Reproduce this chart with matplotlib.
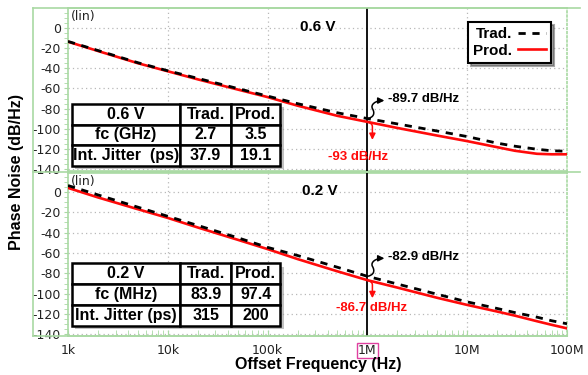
import numpy as np
import matplotlib
matplotlib.use("Agg")
import matplotlib.pyplot as plt
from matplotlib.lines import Line2D
from matplotlib.patches import Rectangle, FancyArrowPatch
from matplotlib.path import Path
import matplotlib.transforms as mtransforms

# offset frequency points (Hz)
freq = [1e3, 2e3, 5e3, 1e4, 2e4, 5e4, 1e5, 2e5, 5e5, 1e6,
        2e6, 5e6, 1e7, 2e7, 3e7, 5e7, 7e7, 1e8]

# 0.6 V phase noise (dB/Hz)
trad_06 = [-13.5, -22.5, -34.5, -42.5, -50, -60, -67.5, -75, -84, -89.7,
           -95, -102, -107.5, -114, -117, -120, -121.5, -122]
prod_06 = [-13.8, -23, -35, -43, -51, -61, -68.5, -77, -87, -93,
           -99, -106.5, -112, -118, -121.5, -124.5, -125, -125]

# 0.2 V phase noise (dB/Hz)
trad_02 = [6.2, -3, -15, -24, -33, -45, -54.5, -62.5, -74, -82.9,
           -90.5, -100.5, -108, -114.5, -118.5, -123, -126.5, -129.5]
prod_02 = [3.9, -5.5, -17, -25.6, -35, -47, -56.2, -66, -78, -86.7,
           -94, -104, -111, -117.5, -121.5, -127, -130.5, -134]

table_06 = [["0.6 V", "Trad.", "Prod."],
            ["fc (GHz)", "2.7", "3.5"],
            ["Int. Jitter  (ps)", "37.9", "19.1"]]
table_02 = [["0.2 V", "Trad.", "Prod."],
            ["fc (MHz)", "83.9", "97.4"],
            ["Int. Jitter (ps)", "315", "200"]]

xticks = [1e3, 1e4, 1e5, 1e6, 1e7, 1e8]
xticklabels = ["1k", "10k", "100k", "1M", "10M", "100M"]
yticks = [0, -20, -40, -60, -80, -100, -120, -140]
mark_f = 1e6

W, H = 588, 375
GREEN = "#a9d9a3"
RED = "#ff0a0a"
BOLD = "Liberation Sans"

fig = plt.figure(figsize=(W / 100, H / 100), dpi=100)
fig.patch.set_facecolor("white")


def px(x, y):
    return x / W, 1 - y / H


def frame_line(x0, y0, x1, y1, **kw):
    a, b = px(x0, y0)
    c, d = px(x1, y1)
    fig.add_artist(Line2D([a, c], [b, d], transform=fig.transFigure,
                          color=GREEN, lw=1.2, **kw))


ax1 = fig.add_axes([68 / W, 1 - 171 / H, 499 / W, 163 / H])
ax2 = fig.add_axes([68 / W, 1 - 336 / H, 499 / W, 163 / H])


def setup(ax, ylim, bottom):
    ax.set_xscale("log")
    ax.set_xlim(1e3, 1e8)
    ax.set_ylim(*ylim)
    ax.set_yticks(yticks)
    ax.set_yticklabels([str(t) for t in yticks], fontsize=9)
    ax.set_yticks(np.arange(-140, 16, 5), minor=True)
    ax.tick_params(axis="y", which="both", direction="out", length=3,
                   color=GREEN, pad=2, labelcolor="#222222")
    ax.set_xticks(xticks)
    ax.xaxis.set_minor_locator(matplotlib.ticker.LogLocator(
        base=10, subs=np.arange(2, 10)))
    ax.xaxis.set_minor_formatter(matplotlib.ticker.NullFormatter())
    if bottom:
        ax.set_xticklabels(xticklabels, fontsize=9)
        ax.tick_params(axis="x", which="both", direction="in", length=4,
                       color=GREEN, pad=6, labelcolor="#222222")
    else:
        ax.set_xticklabels([])
        ax.tick_params(axis="x", which="both", length=0)
    for s in ["left", "top", "bottom"]:
        ax.spines[s].set_color(GREEN)
        ax.spines[s].set_linewidth(1.2)
    ax.spines["right"].set_color(GREEN)
    ax.spines["right"].set_linestyle((0, (1, 1.5)))
    ax.spines["right"].set_linewidth(1.2)
    for yv in yticks:
        ax.axhline(yv, color="#b8b8b8", lw=0.9, ls=(0, (1, 2.5)), zorder=0)
    for xv in [1e4, 1e5, 1e7]:
        ax.axvline(xv, color="#b8b8b8", lw=0.9, ls=(0, (1, 2.5)), zorder=0)
    ax.axvline(mark_f, color="black", lw=1.3, zorder=3)
    ax.text(0.006, 0.985, "(lin)", transform=ax.transAxes, fontsize=9,
            va="top", ha="left", color="#222222")


def draw_table(ax, cells, bbox):
    shadow = Rectangle((bbox[0], bbox[1]), bbox[2], bbox[3],
                       transform=mtransforms.offset_copy(
                           ax.transAxes, fig=fig, x=2.5, y=-2.5, units="points"),
                       facecolor="#9a9a9a", edgecolor="none", alpha=0.6, zorder=4)
    ax.add_patch(shadow)
    tbl = ax.table(cellText=cells, colWidths=[0.52, 0.245, 0.235],
                   cellLoc="center", bbox=bbox)
    tbl.auto_set_font_size(False)
    tbl.set_fontsize(11.5)
    tbl.set_zorder(5)
    for cell in tbl.get_celld().values():
        cell.set_linewidth(1.8)
        cell.set_edgecolor("black")
        cell.set_facecolor("white")
        cell.get_text().set_fontweight("bold")
        cell.get_text().set_fontfamily(BOLD)


def pointer(ax, yv, pts, codes, color):
    # small arrow drawn in pixel offsets from the marker point
    x0, y0 = ax.transData.transform((mark_f, yv))
    verts = [(x0 + dx, y0 + dy) for dx, dy in pts]
    arr = FancyArrowPatch(path=Path(verts, codes), arrowstyle="-|>",
                          mutation_scale=9, color=color, lw=1.1,
                          transform=mtransforms.IdentityTransform(),
                          zorder=6, clip_on=False)
    ax.add_patch(arr)


setup(ax1, (-141.5, 19.5), False)
setup(ax2, (-141.5, 18.5), True)

# curves
for ax, tr, pr in [(ax1, trad_06, prod_06), (ax2, trad_02, prod_02)]:
    ax.plot(freq, pr, color=RED, lw=1.9, zorder=4)
    ax.plot(freq, tr, color="black", lw=2.0, dashes=(2.6, 2.4), zorder=4)

draw_table(ax1, table_06, [0.008, 0.031, 0.417, 0.38])
draw_table(ax2, table_02, [0.008, 0.063, 0.417, 0.383])

ax1.text((300 - 68) / 499, 1 - (27 - 8) / 163, "0.6 V",
         transform=ax1.transAxes, fontsize=11, fontweight="bold",
         family=BOLD, va="center", ha="left")
ax2.text((302 - 68) / 499, 1 - (191 - 173) / 163, "0.2 V",
         transform=ax2.transAxes, fontsize=11, fontweight="bold",
         family=BOLD, va="center", ha="left")

# markers at 1 MHz
i1m = freq.index(mark_f)
squiggle = [(0, 0), (6, 1), (8, 5), (5, 10), (3, 14), (8, 18), (17, 18)]
squiggle_codes = [Path.MOVETO] + [Path.CURVE4] * 6
hook = [(0, 0), (3, -1), (5, -2), (5, -5), (5, -18)]
hook_codes = [Path.MOVETO, Path.CURVE4, Path.CURVE4, Path.CURVE4, Path.LINETO]
notes = [(ax1, trad_06[i1m], prod_06[i1m], (-7, -25)),
         (ax2, trad_02[i1m], prod_02[i1m], (3, -20))]
for ax, tv, pv, roff in notes:
    pointer(ax, tv, squiggle, squiggle_codes, "black")
    pointer(ax, pv, hook, hook_codes, RED)
    ax.annotate("%g dB/Hz" % tv, xy=(mark_f, tv), xytext=(14.5, 14),
                textcoords="offset points", fontsize=9.5, fontweight="bold",
                family=BOLD, va="center", ha="left", zorder=6)
    ax.annotate("%g dB/Hz" % pv, xy=(mark_f, pv), xytext=roff,
                textcoords="offset points", fontsize=9.5, fontweight="bold",
                family=BOLD, color=RED, va="center", ha="center", zorder=6)

# magenta box on the 1M label
for lbl in ax2.get_xticklabels():
    if lbl.get_text() == "1M":
        lbl.set_bbox(dict(facecolor="white", edgecolor="#e040a0",
                          lw=1.0, pad=0.8))

# legend
handles = [Line2D([], [], color="black", lw=2.0, dashes=(2.6, 2.4)),
           Line2D([], [], color=RED, lw=1.9)]
leg = ax1.legend(handles, ["Trad.", "Prod."], loc="upper right",
                 bbox_to_anchor=(0.968, 0.914), borderaxespad=0,
                 markerfirst=False,
                 prop={"family": BOLD, "weight": "bold", "size": 11},
                 handlelength=1.8, handletextpad=0.4, borderpad=0.35,
                 labelspacing=0.15, fancybox=False, shadow=True,
                 framealpha=1, edgecolor="black")
leg.get_frame().set_linewidth(1.5)
leg.set_zorder(7)

# outer frame lines
frame_line(33, 8, 580, 8)
frame_line(33, 8, 33, 336)
frame_line(33, 172, 580, 172)
frame_line(33, 336, 567, 336)

fig.text(*px(17, 172), "Phase Noise (dB/Hz)", rotation=90, fontsize=11.5,
         fontweight="bold", family=BOLD, ha="center", va="center")
fig.text(*px(318, 365), "Offset Frequency (Hz)", fontsize=11.5,
         fontweight="bold", family=BOLD, ha="center", va="center")

fig.savefig("out.png", dpi=100, facecolor="white")
